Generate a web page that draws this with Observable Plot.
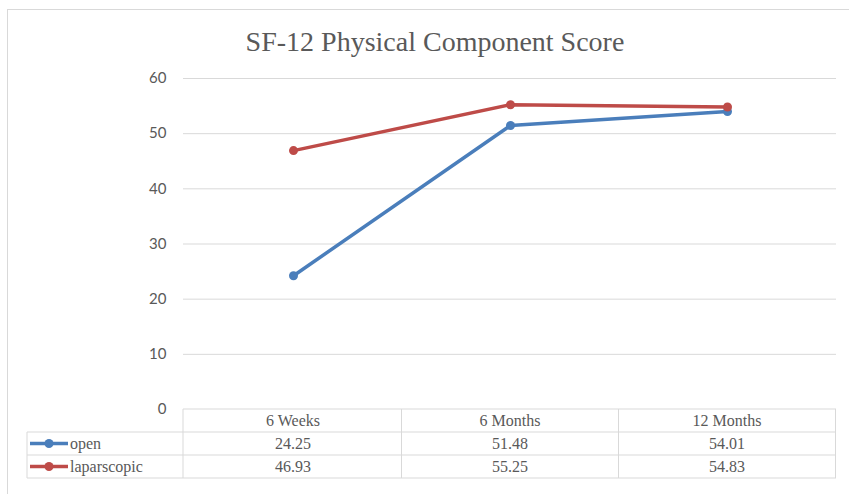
<!DOCTYPE html>
<html><head><meta charset="utf-8">
<script src="https://cdn.jsdelivr.net/npm/d3@7"></script>
<script src="https://cdn.jsdelivr.net/npm/@observablehq/plot@0.6"></script>
<style>
body{margin:0;background:#fff;}
#wrap{position:relative;width:849px;height:494px;overflow:hidden;background:#fff;}
#frame{position:absolute;left:7px;top:9px;width:880px;height:520px;border:1px solid #d9d9d9;}
#title{position:absolute;left:0;width:870px;top:28px;line-height:1;text-align:center;font-family:"Liberation Serif",serif;font-size:28px;color:#595959;white-space:nowrap;}
#chart{position:absolute;left:0;top:0;}
#chart svg text.tbl{font-family:"Liberation Serif",serif !important;font-size:16px !important;}
</style></head><body>
<div id="wrap"><div id="frame"></div><div id="chart"></div><div id="title">SF-12 Physical Component Score</div></div>
<script>
const categories = ["6 Weeks", "6 Months", "12 Months"];
const seriesNames = ["open", "laparscopic"];
const openValues = [24.25, 51.48, 54.01];
const laparscopicValues = [46.93, 55.25, 54.83];
const valueLabels = [["24.25", "51.48", "54.01"], ["46.93", "55.25", "54.83"]];
const yTicks = [0, 10, 20, 30, 40, 50, 60];
const colors = ["#4a7ebb", "#be4b48"];

const data = [];
seriesNames.forEach((s, si) => {
  const vals = si === 0 ? openValues : laparscopicValues;
  categories.forEach((c, i) => data.push({cat: c, series: s, value: vals[i]}));
});

function table(index, scales, values, dims) {
  const x = scales.x, y = scales.y;
  const xs = categories.map(c => x(c));
  const step = xs[1] - xs[0];
  const left = dims.marginLeft, right = dims.width - dims.marginRight;
  const top = y(0);
  const rowH = 23;
  const legLeft = 27;
  const g = d3.create("svg:g");
  const line = "#d9d9d9";
  const hl = (x1, x2, yy) => g.append("line").attr("x1", x1).attr("x2", x2).attr("y1", yy).attr("y2", yy).attr("stroke", line);
  const vl = (xx, y1, y2) => g.append("line").attr("x1", xx).attr("x2", xx).attr("y1", y1).attr("y2", y2).attr("stroke", line);
  hl(left, right, top);
  for (let r = 1; r <= 3; r++) hl(legLeft, right, top + r * rowH);
  vl(legLeft, top + rowH, top + 3 * rowH);
  vl(left, top, top + 3 * rowH);
  xs.forEach(xx => vl(xx + step / 2, top, top + 3 * rowH));
  const txt = (xx, yy, s, anchor) => g.append("text").attr("class", "tbl").attr("x", xx).attr("y", yy).attr("text-anchor", anchor || "middle")
    .attr("dy", "0.35em").attr("font-family", "Liberation Serif").attr("font-size", 16).attr("fill", "#595959").text(s);
  categories.forEach((c, i) => txt(xs[i], top + rowH / 2, c));
  seriesNames.forEach((s, si) => {
    const yy = top + rowH * (si + 1) + rowH / 2;
    valueLabels[si].forEach((v, i) => txt(xs[i], yy, v));
    g.append("line").attr("x1", legLeft + 3).attr("x2", legLeft + 41).attr("y1", yy).attr("y2", yy)
      .attr("stroke", colors[si]).attr("stroke-width", 3.5);
    g.append("circle").attr("cx", legLeft + 22).attr("cy", yy).attr("r", 4.5).attr("fill", colors[si]);
    txt(legLeft + 43, yy, s, "start");
  });
  return g.node();
}

const chart = Plot.plot({
  width: 849, height: 494,
  marginLeft: 183, marginRight: 13, marginTop: 78, marginBottom: 85,
  style: {background: "transparent", fontFamily: "Lato, sans-serif", fontSize: "15px", color: "#595959", overflow: "visible"},
  x: {type: "point", domain: categories, padding: 0.5, axis: null},
  y: {domain: [0, 60], ticks: yTicks, tickSize: 0, tickPadding: 17, label: null},
  color: {domain: seriesNames, range: colors},
  marks: [
    Plot.ruleY(yTicks.filter(d => d > 0), {stroke: "#d9d9d9", strokeWidth: 1}),
    Plot.line(data, {x: "cat", y: "value", z: "series", stroke: "series", strokeWidth: 3.5}),
    Plot.dot(data, {x: "cat", y: "value", fill: "series", r: 4.5}),
    table
  ]
});
document.getElementById("chart").appendChild(chart);
</script>
</body></html>
